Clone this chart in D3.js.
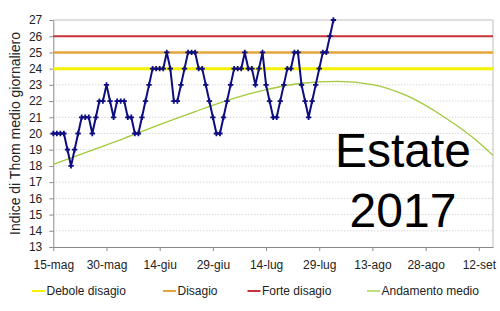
<!DOCTYPE html>
<html>
<head>
<meta charset="utf-8">
<script src="https://cdn.jsdelivr.net/npm/d3@7"></script>
<style>
  body { margin: 0; background: #fff; }
  svg { display: block; font-family: "Liberation Sans", Arial, sans-serif; }
  .axis path, .axis line { stroke: #8a8a8a; }
  .axis text { fill: #222; font-size: 12px; }
  .grid line { stroke: #c4c4c4; stroke-dasharray: 1,2; }
</style>
</head>
<body>
<div id="chart"></div>
<script>
// daily Thom index, one value per day starting from thomStart
const thomStart = '2017-05-15';
const thomValues = [
  20, 20, 20, 20, 19, 18, 19, 20, 21, 21,
  21, 20, 21, 22, 22, 23, 22, 21, 22, 22,
  22, 21, 21, 20, 20, 21, 22, 23, 24, 24,
  24, 24, 25, 24, 22, 22, 23, 24, 25, 25,
  25, 24, 24, 23, 22, 21, 20, 20, 21, 22,
  23, 24, 24, 24, 25, 24, 24, 23, 24, 25,
  23, 22, 21, 21, 22, 23, 24, 24, 25, 25,
  23, 22, 21, 22, 23, 24, 25, 25, 26, 27
];

// "Andamento medio" curve, read at a few dates
const trendDates = ['2017-05-15', '2017-05-25', '2017-06-04', '2017-06-14', '2017-06-24',
  '2017-07-04', '2017-07-14', '2017-07-24', '2017-08-03', '2017-08-13', '2017-08-23',
  '2017-09-02', '2017-09-12', '2017-09-16'];
const trendValues = [18.1, 18.9, 19.7, 20.55, 21.35, 22.1, 22.7, 23.1, 23.22, 23.02, 22.3,
  21.05, 19.45, 18.65];

// comfort thresholds
const thresholdNames = ['Debole disagio', 'Disagio', 'Forte disagio'];
const thresholdValues = [24, 25, 26];
const trendName = 'Andamento medio';

const xTickDates = ['2017-05-15', '2017-05-30', '2017-06-14', '2017-06-29', '2017-07-14',
  '2017-07-29', '2017-08-13', '2017-08-28', '2017-09-12'];
const xTickLabels = ['15-mag', '30-mag', '14-giu', '29-giu', '14-lug', '29-lug', '13-ago',
  '28-ago', '12-set'];
const yTicks = [13, 14, 15, 16, 17, 18, 19, 20, 21, 22, 23, 24, 25, 26, 27];

const W = 500, H = 311;
const plot = { left: 53.3, right: 493, top: 20, bottom: 247 };
const thresholdColors = ['#f4f200', '#e3a53a', '#c8323a'];
const thresholdWidths = [3, 2.5, 2];
const trendColor = '#a2c93a';
const seriesColor = '#0d0d80';

const parse = d3.utcParse('%Y-%m-%d');

function drawChart() {
  const svg = d3.select('#chart').append('svg')
    .attr('width', W)
    .attr('height', H);

  const x = d3.scaleUtc()
    .domain([parse('2017-05-15'), parse('2017-09-16')])
    .range([plot.left, plot.right]);

  const y = d3.scaleLinear()
    .domain([13, 27])
    .range([plot.bottom, plot.top]);

  // dotted grid
  svg.append('g')
    .attr('class', 'grid')
    .selectAll('line')
    .data(yTicks.slice(1, -1))
    .enter().append('line')
    .attr('x1', plot.left).attr('x2', plot.right)
    .attr('y1', d => y(d)).attr('y2', d => y(d));

  // plot frame top/right
  svg.append('path')
    .attr('d', `M${plot.left},${y(27)}H${plot.right}V${plot.bottom}`)
    .attr('fill', 'none')
    .attr('stroke', '#c0c0c0');

  // axes
  const tickByTime = new Map(xTickDates.map((d, i) => [+parse(d), xTickLabels[i]]));
  svg.append('g')
    .attr('class', 'axis')
    .attr('transform', `translate(0,${plot.bottom})`)
    .call(d3.axisBottom(x)
      .tickValues(xTickDates.map(parse))
      .tickSizeInner(4).tickSizeOuter(0)
      .tickPadding(9)
      .tickFormat(d => tickByTime.get(+d)));

  svg.append('g')
    .attr('class', 'axis')
    .attr('transform', `translate(${plot.left},0)`)
    .call(d3.axisLeft(y)
      .tickValues(yTicks)
      .tickSizeInner(4).tickSizeOuter(0)
      .tickPadding(7)
      .tickFormat(d3.format('d')));

  svg.append('text')
    .attr('transform', 'translate(20,133.5) rotate(-90)')
    .attr('text-anchor', 'middle')
    .attr('font-size', 14)
    .attr('fill', '#222')
    .text('Indice di Thom medio giornaliero');

  // threshold lines
  svg.append('g')
    .selectAll('line')
    .data(thresholdValues)
    .enter().append('line')
    .attr('x1', plot.left).attr('x2', plot.right)
    .attr('y1', d => y(d)).attr('y2', d => y(d))
    .attr('stroke', (d, i) => thresholdColors[i])
    .attr('stroke-width', (d, i) => thresholdWidths[i]);

  // average trend
  const trend = trendDates.map((d, i) => ({ date: parse(d), value: trendValues[i] }));
  svg.append('path')
    .datum(trend)
    .attr('fill', 'none')
    .attr('stroke', trendColor)
    .attr('stroke-width', 1.3)
    .attr('d', d3.line()
      .x(d => x(d.date))
      .y(d => y(d.value))
      .curve(d3.curveMonotoneX));

  // daily series
  const start = parse(thomStart);
  const series = thomValues.map((v, i) => ({ date: d3.utcDay.offset(start, i), value: v }));
  svg.append('path')
    .datum(series)
    .attr('fill', 'none')
    .attr('stroke', seriesColor)
    .attr('stroke-width', 2)
    .attr('d', d3.line().x(d => x(d.date)).y(d => y(d.value)));

  svg.append('g')
    .selectAll('path')
    .data(series)
    .enter().append('path')
    .attr('transform', d => `translate(${x(d.date)},${y(d.value)})`)
    .attr('d', d3.symbol(d3.symbolCross, 16))
    .attr('fill', seriesColor);

  // big label
  const label = svg.append('text')
    .attr('text-anchor', 'middle')
    .attr('font-size', 48)
    .attr('fill', '#000');
  label.append('tspan').attr('x', 403).attr('y', 167).text('Estate');
  label.append('tspan').attr('x', 403).attr('y', 227).text('2017');

  // legend
  const legendNames = thresholdNames.concat([trendName]);
  const legendColors = thresholdColors.concat([trendColor]);
  const legendX = [32, 163, 247.5, 367];
  const legend = svg.append('g')
    .selectAll('g')
    .data(legendNames)
    .enter().append('g')
    .attr('transform', (d, i) => `translate(${legendX[i]},291)`);
  legend.append('line')
    .attr('x1', 0).attr('x2', 13)
    .attr('stroke', (d, i) => legendColors[i])
    .attr('stroke-width', (d, i) => i === 3 ? 1.3 : 2);
  legend.append('text')
    .attr('x', 14.5)
    .attr('dy', '0.35em')
    .attr('font-size', 12)
    .attr('fill', '#222')
    .text(d => d);
}

drawChart();
</script>
</body>
</html>
